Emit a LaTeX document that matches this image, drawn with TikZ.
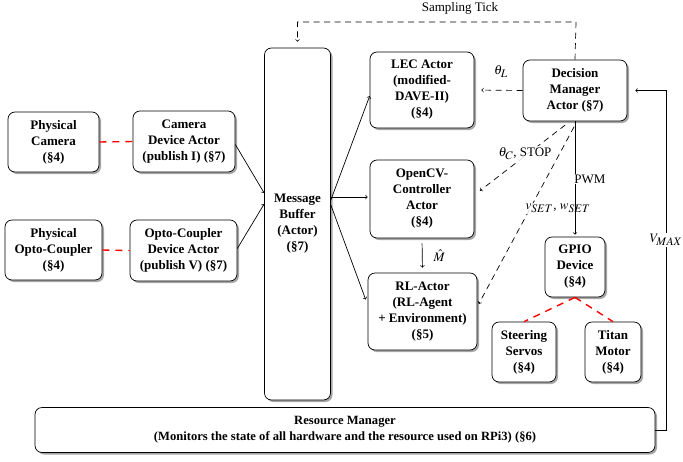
\documentclass[tikz,border=0pt]{standalone}
\usepackage{mathptmx}
\usepackage{fontspec}
\setmainfont{Liberation Serif}
\DeclareMathSizes{13}{13}{11.5}{9}
\usetikzlibrary{shadows}
\begin{document}
\begin{tikzpicture}[x=1pt,y=-1pt,line width=0.7pt,
  box/.style={draw,rounded corners=7pt,fill=white,align=center,inner sep=0pt,
    font=\bfseries\fontsize{13}{16}\selectfont,
    drop shadow={shadow xshift=2pt,shadow yshift=-2pt,fill=gray!70,opacity=1}},
  arr/.style={->},
  dsh/.style={dash pattern=on 6pt off 4.5pt},
  reddash/.style={red,line width=1.4pt,dash pattern=on 7pt off 6pt},
  lbl/.style={font=\fontsize{13}{16}\selectfont,inner sep=1pt}]
\useasboundingbox (0,0) rectangle (683,461);
\node[box,minimum width=91pt,minimum height=60pt] (pcam) at (53.5,142) {Physical\\Camera\\(§4)};
\node[box,minimum width=102pt,minimum height=61pt] (cdev) at (184,141.5) {Camera\\Device Actor\\(publish I) (§7)};
\node[box,minimum width=97pt,minimum height=60pt] (popto) at (53.5,250) {Physical\\Opto-Coupler\\(§4)};
\node[box,minimum width=107pt,minimum height=61pt] (odev) at (183.5,250.5) {Opto-Coupler\\Device Actor\\(publish V) (§7)};
\node[box,minimum width=66pt,minimum height=352pt] (mb) at (297.5,224) {Message\\Buffer\\(Actor)\\(§7)};
\node[box,minimum width=104pt,minimum height=76pt] (lec) at (422,90) {LEC Actor\\(modified-\\DAVE-II)\\(§4)};
\node[box,minimum width=104pt,minimum height=78pt] (ocv) at (422,199) {OpenCV-\\Controller\\Actor\\(§4)};
\node[box,minimum width=109pt,minimum height=77pt] (rl) at (422.5,311.5) {RL-Actor\\(RL-Agent\\+ Environment)\\(§5)};
\node[box,minimum width=104pt,minimum height=61pt] (dm) at (575,90.5) {Decision\\Manager\\Actor (§7)};
\node[box,minimum width=60pt,minimum height=60pt] (gpio) at (575,267) {GPIO\\Device\\(§4)};
\node[box,minimum width=64pt,minimum height=60pt] (steer) at (524,352) {Steering\\Servos\\(§4)};
\node[box,minimum width=56pt,minimum height=60pt] (titan) at (613,352) {Titan\\Motor\\(§4)};
\node[box,minimum width=620pt,minimum height=45pt,font=\bfseries\fontsize{12.6}{16}\selectfont] (rm) at (345,430) {Resource Manager\\(Monitors the state of all hardware and the resource used on RPi3) (§6)};
% red links
\draw[reddash] (pcam.east) -- (cdev.west);
\draw[reddash] (popto.east) -- (odev.west);
\draw[reddash] (gpio.south) -- (steer.north);
\draw[reddash] (gpio.south) -- (titan.north);
% into message buffer
\draw[arr] ([yshift=-3pt]cdev.east) -- ([yshift=31pt]mb.west);
\draw[arr] ([yshift=2pt]odev.east) -- ([yshift=20pt]mb.west);
% out of message buffer
\draw[arr] ([yshift=24pt]mb.east) -- ([yshift=-6pt]lec.west);
\draw[arr] ([yshift=27pt]mb.east) -- ([xshift=-2pt,yshift=2pt]ocv.west);
\draw[arr] ([yshift=19pt]mb.east) -- ([xshift=-2pt,yshift=12pt]rl.west);
\draw[arr,shorten <=5pt,shorten >=5pt] (ocv.south) -- (rl.north) node[lbl,midway,right=10pt] {$\hat{M}$};
% decision manager
\draw[arr,dsh,shorten >=7pt] (dm.west) -- (lec.east) node[lbl,pos=0.45,above=11pt] {$\theta_L$};
\draw[arr,dsh,shorten <=6pt,shorten >=7pt] ([xshift=-5pt]dm.south) -- ([yshift=4pt]ocv.east) node[lbl,pos=0.47,above=-5pt,fill=white,fill opacity=0.85,text opacity=1] {$\theta_C$, STOP};
\draw[arr,dsh,shorten <=6pt,shorten >=3pt] ([xshift=2pt]dm.south) -- ([yshift=5pt]rl.east) node[lbl,pos=0.47,right=-6pt,fill=white,fill opacity=0.85,text opacity=1] {$v_{SET}$, $w_{SET}$};
\draw[arr,shorten >=2pt] (dm.south) -- (gpio.north) node[lbl,pos=0.5,right=-2pt,fill=white] {PWM};
% V_MAX
\coordinate (vr) at (666,430);
\draw[arr,shorten >=8pt] (rm.east) -- (vr) |- (dm.east) node[lbl,pos=0.28,fill=white] {$V_{MAX}$};
% sampling tick
\coordinate (tk) at (576,22);
\draw[arr,dsh,shorten >=6pt] (dm.north) -- (tk) -| (mb.north);
\node[lbl] (st) at (460,8) {Sampling Tick};
\end{tikzpicture}
\end{document}
